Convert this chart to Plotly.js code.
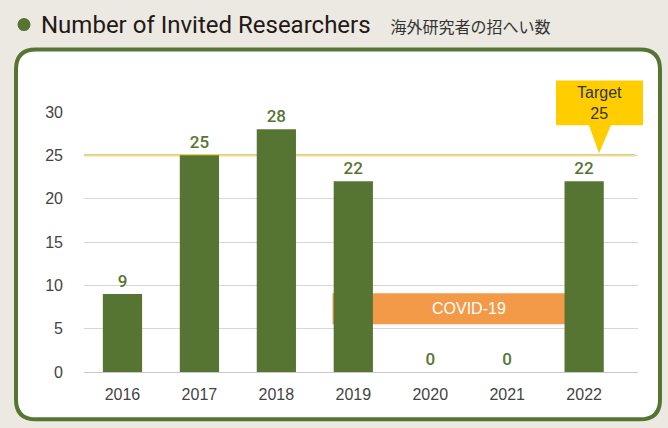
<!DOCTYPE html>
<html>
<head>
<meta charset="utf-8">
<script src="https://cdn.plot.ly/plotly-3.0.1.min.js"></script>
<style>
html,body{margin:0;padding:0;background:#ebe9e1;}
#chart{width:668px;height:428px;}
</style>
</head>
<body>
<div id="chart"></div>
<script>
// ---- data ----
const years = ['2016', '2017', '2018', '2019', '2020', '2021', '2022'];
const researchers = [9, 25, 28, 22, 0, 0, 22];
const targetValue = 25;
const yTicks = [0, 5, 10, 15, 20, 25, 30];
const covidLabel = 'COVID-19';
const covidStart = 2.73, covidEnd = 6;   // category positions spanned by the COVID band
const covidLow = 5.5, covidHigh = 9.1;   // band height in data units

// ---- layout geometry helpers (pixel -> paper) ----
const L = 84, R = 638, T = 111.7, B = 372.5;
const W = R - L, H = B - T;
const X = p => (p - L) / W;
const Y = p => (B - p) / H;

const green = '#577532';
const r = 20;
const fx0 = 16, fx1 = 660, fy0 = 49, fy1 = 420;
const framePath = [
  `M ${X(fx0 + r)},${Y(fy0)}`,
  `L ${X(fx1 - r)},${Y(fy0)}`,
  `Q ${X(fx1)},${Y(fy0)} ${X(fx1)},${Y(fy0 + r)}`,
  `L ${X(fx1)},${Y(fy1 - r)}`,
  `Q ${X(fx1)},${Y(fy1)} ${X(fx1 - r)},${Y(fy1)}`,
  `L ${X(fx0 + r)},${Y(fy1)}`,
  `Q ${X(fx0)},${Y(fy1)} ${X(fx0)},${Y(fy1 - r)}`,
  `L ${X(fx0)},${Y(fy0 + r)}`,
  `Q ${X(fx0)},${Y(fy0)} ${X(fx0 + r)},${Y(fy0)}`,
  'Z'
].join(' ');

// target callout (pixel-placed decoration)
const tipY = Y(B - targetValue / 30 * H) + 0.008;
const callout = [
  `M ${X(556)},${Y(80)}`,
  `L ${X(643)},${Y(80)}`,
  `L ${X(643)},${Y(125)}`,
  `L ${X(611)},${Y(125)}`,
  `L ${X(599)},${tipY}`,
  `L ${X(589)},${Y(125)}`,
  `L ${X(556)},${Y(125)}`,
  'Z'
].join(' ');

const trace = {
  type: 'bar',
  x: years,
  y: researchers,
  marker: {color: green},
  text: researchers.map(String),
  textposition: 'outside',
  cliponaxis: false,
  textfont: {family: 'Roboto, sans-serif', size: 17, color: green, weight: 500},
  hoverinfo: 'x+y'
};

const layout = {
  width: 668, height: 428,
  margin: {l: L, r: 668 - R, t: T, b: 428 - B, pad: 0},
  paper_bgcolor: '#ebe9e1',
  plot_bgcolor: 'rgba(0,0,0,0)',
  showlegend: false,
  bargap: 0.49,
  title: {
    text: 'Number of Invited Researchers<span style="font-size:16px;color:#333333">     海外研究者の招へい数</span>',
    font: {family: 'Roboto, "Noto Sans CJK JP", sans-serif', size: 24, color: '#231815'},
    x: 41 / 668, xanchor: 'left', xref: 'container',
    y: 1 - 25 / 428, yanchor: 'middle', yref: 'container'
  },
  xaxis: {
    type: 'category',
    range: [-0.5, 6.7],
    showgrid: false, zeroline: false, showline: false,
    ticks: '',
    tickfont: {family: '"Liberation Sans", Arial, sans-serif', size: 16, color: '#444444'},
    ticklabelstandoff: 11
  },
  yaxis: {
    range: [0, 30],
    tickvals: yTicks,
    showgrid: true, gridcolor: '#d6d6d6', gridwidth: 1,
    zeroline: true, zerolinecolor: '#c8c8c8', zerolinewidth: 1,
    showline: false, ticks: '',
    tickfont: {family: '"Liberation Sans", Arial, sans-serif', size: 16, color: '#444444'},
    ticklabelstandoff: 20
  },
  shapes: [
    {type: 'path', xref: 'paper', yref: 'paper', path: framePath,
     fillcolor: '#ffffff', line: {color: green, width: 4}, layer: 'below'},
    {type: 'circle', xref: 'paper', yref: 'paper', xsizemode: 'pixel', ysizemode: 'pixel',
     xanchor: X(24), yanchor: Y(24), x0: -6.5, x1: 6.5, y0: -6.5, y1: 6.5,
     fillcolor: green, line: {width: 0}, layer: 'above'},
    {type: 'rect', xref: 'x', yref: 'y', x0: covidStart, x1: covidEnd, y0: covidLow, y1: covidHigh,
     fillcolor: '#f39a48', line: {width: 0}, layer: 'between'},
    {type: 'line', xref: 'paper', yref: 'y', x0: 0, x1: X(635), y0: targetValue, y1: targetValue,
     line: {color: '#f2c200', width: 2}, layer: 'between'},
    {type: 'path', xref: 'paper', yref: 'paper', path: callout,
     fillcolor: '#ffcd00', line: {width: 0}, layer: 'above'}
  ],
  annotations: [
    {xref: 'x', yref: 'y', x: 4.5, y: (covidLow + covidHigh) / 2, text: covidLabel, showarrow: false,
     xanchor: 'center', yanchor: 'middle',
     font: {family: '"Liberation Sans", Arial, sans-serif', size: 16, color: '#ffffff'}},
    {xref: 'paper', yref: 'paper', x: X(599), y: Y(103), text: 'Target<br>' + targetValue, showarrow: false,
     xanchor: 'center', yanchor: 'middle',
     font: {family: '"Liberation Sans", Arial, sans-serif', size: 16, color: '#333333'}}
  ]
};

Plotly.newPlot('chart', [trace], layout, {displayModeBar: false, staticPlot: true});
</script>
</body>
</html>
